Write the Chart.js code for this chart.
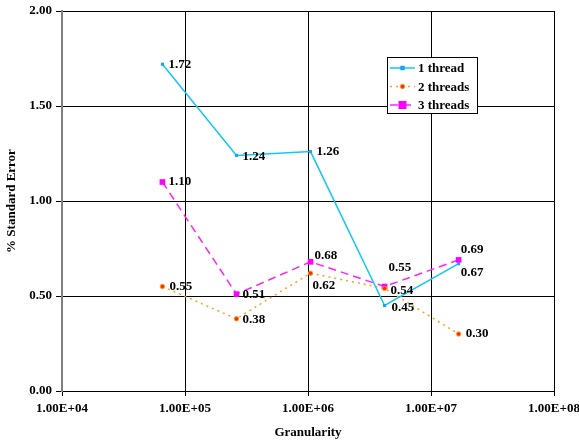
<!DOCTYPE html>
<html><head><meta charset="utf-8">
<script src="https://cdn.jsdelivr.net/npm/chart.js@4"></script>
<style>html,body{margin:0;padding:0;background:#fff}#wrap{width:579px;height:444px;position:relative}</style>
</head><body><div id="wrap"><canvas id="c" width="579" height="444"></canvas></div>
<script>
const granularity = [65536, 262144, 1048576, 4194304, 16777216];
const thread1 = [1.72, 1.24, 1.26, 0.45, 0.67];
const thread2 = [0.55, 0.38, 0.62, 0.54, 0.30];
const thread3 = [1.10, 0.51, 0.68, 0.55, 0.69];
const seriesNames = ['1 thread', '2 threads', '3 threads'];
const xTicks = [1e4, 1e5, 1e6, 1e7, 1e8];
const yTicks = [0, 0.5, 1.0, 1.5, 2.0];

const FONT = '"Liberation Serif", "Times New Roman", serif';
const labelOffsets = [
  [[6,0],[6,1],[6,0],[7,2],[2,9]],
  [[7,0],[6,1],[2,12],[6,2],[7,0]],
  [[6,0],[6,1],[4,-6],[4,-19],[2,-10]]
];
const pts = arr => arr.map((v,i)=>({x:granularity[i], y:v}));

const labelPlugin = {
  id:'labels',
  afterDatasetsDraw(chart){
    const ctx = chart.ctx;
    ctx.save();
    ctx.font = 'bold 13px ' + FONT;
    ctx.fillStyle = '#000';
    ctx.textBaseline = 'middle';
    ctx.textAlign = 'left';
    chart.data.datasets.forEach((ds,di)=>{
      chart.getDatasetMeta(di).data.forEach((el,i)=>{
        const o = labelOffsets[di][i];
        ctx.fillText(ds.data[i].y.toFixed(2), el.x + o[0], el.y + o[1]);
      });
    });
    // legend box
    const bx=387, by=57, bw=90, bh=56;
    ctx.fillStyle='#fff'; ctx.fillRect(bx,by,bw,bh);
    ctx.strokeStyle='#000'; ctx.lineWidth=1; ctx.strokeRect(bx+0.5,by+0.5,bw,bh);
    ctx.font = 'bold 13px ' + FONT;
    chart.data.datasets.forEach((ds,di)=>{
      const y = by + 11 + di*18.5;
      ctx.strokeStyle = ds.borderColor; ctx.lineWidth = ds.borderWidth;
      ctx.setLineDash(ds.borderDash || []);
      ctx.beginPath(); ctx.moveTo(bx+3,y); ctx.lineTo(bx+28,y); ctx.stroke();
      ctx.setLineDash([]);
      const r = ds.pointRadius;
      ctx.fillStyle = ds.pointBackgroundColor;
      if (ds.pointStyle==='circle'){ ctx.beginPath(); ctx.arc(bx+15.5,y,r,0,Math.PI*2); ctx.fill();
        ctx.strokeStyle=ds.pointBorderColor; ctx.lineWidth=1; ctx.stroke(); }
      else { ctx.fillRect(bx+15.5-r,y-r,2*r,2*r); }
      ctx.fillStyle='#000';
      ctx.fillText(ds.label, bx+31, y+1);
    });
    ctx.restore();
  }
};

new Chart(document.getElementById('c'), {
  type:'line',
  data:{ datasets:[
    {label:seriesNames[0], data:pts(thread1), borderColor:'#10c8f8', backgroundColor:'#10c8f8', borderWidth:1.5,
     pointStyle:'rect', pointRadius:2.2, pointBackgroundColor:'#1ea0f0', pointBorderColor:'#1ea0f0', pointBorderWidth:0},
    {label:seriesNames[1], data:pts(thread2), borderColor:'#ffa020', backgroundColor:'#ffa020', borderWidth:1.5, borderDash:[2,4],
     pointStyle:'circle', pointRadius:2.2, pointBackgroundColor:'#ff2a00', pointBorderColor:'#ff9a20', pointBorderWidth:1},
    {label:seriesNames[2], data:pts(thread3), borderColor:'#ff22ff', backgroundColor:'#ff22ff', borderWidth:1.5, borderDash:[8,5],
     pointStyle:'rect', pointRadius:4, pointBackgroundColor:'#ff00ff', pointBorderColor:'#ff00ff', pointBorderWidth:0}
  ]},
  options:{
    responsive:false, animation:false, devicePixelRatio:1,
    layout:{padding:{top:11,right:0,left:0,bottom:0}},
    plugins:{legend:{display:false}, tooltip:{enabled:false}},
    scales:{
      x:{type:'logarithmic', min:1e4, max:1e8,
        afterBuildTicks:s=>{s.ticks = xTicks.map(v=>({value:v}));},
        afterFit:s=>{s.height = 53; s.paddingRight = 25; s.paddingLeft = 0;},
        ticks:{callback:v=>{const e=Math.round(Math.log10(v)); return '1.00E+'+(e<10?'0':'')+e;},
          font:{family:FONT, size:13, weight:'bold'}, color:'#000', maxRotation:0, autoSkip:false, padding:5},
        grid:{color:'#000', lineWidth:1, tickLength:5, drawTicks:true},
        border:{color:'#000'},
        title:{display:true, text:'Granularity', font:{family:FONT, size:13, weight:'bold'}, color:'#000', padding:{top:8}}
      },
      y:{min:0, max:2,
        afterBuildTicks:s=>{s.ticks = yTicks.map(v=>({value:v}));},
        afterFit:s=>{s.width = 62; s.paddingTop = 0;},
        ticks:{callback:v=>v.toFixed(2), font:{family:FONT, size:13, weight:'bold'}, color:'#000', padding:4},
        grid:{color:'#000', lineWidth:1, tickLength:6},
        border:{color:'#808080', width:2},
        title:{display:true, text:'% Standard Error', font:{family:FONT, size:13, weight:'bold'}, color:'#000', padding:{bottom:4}}
      }
    }
  },
  plugins:[labelPlugin]
});
</script></body></html>
